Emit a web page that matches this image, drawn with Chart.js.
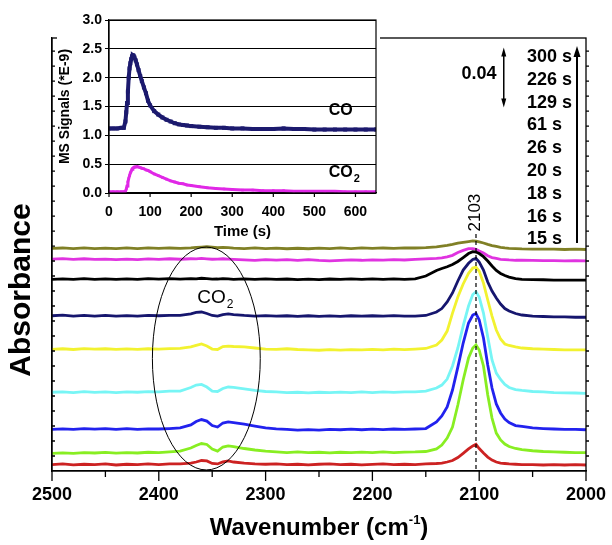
<!DOCTYPE html>
<html>
<head>
<meta charset="utf-8">
<script src="https://cdn.jsdelivr.net/npm/chart.js"></script>
<style>
  body { margin: 0; background: #fff; }
  #wrap { position: relative; width: 612px; height: 545px; }
  #main { position: absolute; left: 0; top: 0; }
  #insetBox { position: absolute; left: 57px; top: 0; width: 323px; height: 244px; background: #fff; }
</style>
</head>
<body>
<div id="wrap">
  <canvas id="main" width="612" height="545"></canvas>
  <div id="insetBox"><canvas id="inset" width="323" height="244"></canvas></div>
</div>
<script>
// IR spectra, absorbance (stacked as shown), wavenumber in cm-1
const wavenumbers = [2500,2490,2480,2470,2460,2450,2440,2430,2420,2410,2400,2390,2380,2370,
  2365,2360,2355,2350,2345,2340,2335,2330,
  2320,2310,2300,2290,2280,2270,2260,2250,2240,2230,2220,2210,2200,2190,2180,2170,2160,2150,2140,
  2135,2130,2125,2120,2115,2110,2106,2103,2100,2096,2092,2088,2084,2080,2076,2072,2066,2060,
  2050,2040,2030,2020,2010,2000];

const spec15 = [.0043,.0047,.0041,.0045,.0043,.0047,.0040,.0045,.0042,.0047,.0043,.0047,.0048,.0053,
  .0060,.0070,.0067,.0050,.0047,.0061,.0067,.0060,
  .0053,.0048,.0045,.0047,.0043,.0045,.0041,.0045,.0047,.0043,.0045,.0041,.0044,.0047,.0043,.0045,.0043,.0047,.0050,
  .0053,.0060,.0070,.0090,.0118,.0147,.0167,.0178,.0150,.0120,.0093,.0073,.0060,.0053,.0050,.0047,.0045,.0043,
  .0043,.0040,.0043,.0040,.0042,.0040];
const spec16 = [.0118,.0121,.0117,.0123,.0120,.0124,.0119,.0123,.0120,.0125,.0123,.0128,.0133,.0153,
  .0170,.0183,.0177,.0147,.0133,.0160,.0167,.0163,
  .0150,.0140,.0133,.0128,.0123,.0127,.0123,.0125,.0121,.0125,.0122,.0126,.0123,.0127,.0123,.0126,.0127,.0130,.0147,
  .0173,.0220,.0293,.0440,.0607,.0753,.0820,.0840,.0807,.0700,.0507,.0353,.0253,.0207,.0180,.0163,.0150,.0143,
  .0135,.0130,.0127,.0125,.0123,.0122];
const spec18 = [.0278,.0281,.0277,.0283,.0279,.0283,.0278,.0282,.0277,.0281,.0280,.0283,.0287,.0307,
  .0330,.0343,.0333,.0303,.0293,.0320,.0327,.0323,
  .0313,.0300,.0287,.0281,.0277,.0273,.0276,.0273,.0277,.0275,.0279,.0275,.0279,.0276,.0280,.0277,.0280,.0283,.0327,
  .0367,.0427,.0540,.0693,.0853,.0987,.1040,.1050,.1007,.0887,.0707,.0553,.0447,.0387,.0347,.0323,.0303,.0297,
  .0287,.0283,.0280,.0277,.0278,.0275];
const spec20 = [.0525,.0528,.0523,.0529,.0524,.0527,.0523,.0528,.0525,.0529,.0527,.0533,.0533,.0557,
  .0573,.0577,.0560,.0533,.0530,.0550,.0560,.0557,
  .0547,.0537,.0530,.0527,.0523,.0525,.0521,.0525,.0522,.0526,.0523,.0527,.0523,.0527,.0524,.0527,.0527,.0533,.0553,
  .0573,.0613,.0700,.0820,.0967,.1100,.1177,.1195,.1160,.1053,.0893,.0740,.0653,.0610,.0577,.0557,.0543,.0537,
  .0530,.0527,.0523,.0521,.0520,.0518];
const spec26 = [.0811,.0815,.0810,.0816,.0812,.0815,.0811,.0814,.0811,.0815,.0813,.0816,.0817,.0827,
  .0837,.0847,.0833,.0813,.0810,.0830,.0833,.0830,
  .0827,.0820,.0813,.0811,.0815,.0810,.0808,.0805,.0809,.0806,.0809,.0807,.0811,.0808,.0812,.0809,.0813,.0817,.0840,
  .0873,.0933,.1053,.1160,.1247,.1318,.1353,.1360,.1333,.1253,.1140,.1033,.0940,.0880,.0847,.0837,.0827,.0820,
  .0815,.0812,.0810,.0808,.0807,.0807];
const spec61 = [.1035,.1039,.1033,.1037,.1033,.1037,.1032,.1036,.1033,.1038,.1035,.1037,.1037,.1047,
  .1057,.1060,.1050,.1037,.1033,.1043,.1047,.1043,
  .1037,.1033,.1036,.1032,.1035,.1031,.1035,.1031,.1034,.1031,.1035,.1032,.1035,.1033,.1036,.1033,.1033,.1037,.1060,
  .1083,.1127,.1187,.1267,.1340,.1385,.1410,.1417,.1393,.1340,.1260,.1200,.1153,.1113,.1083,.1067,.1050,.1040,
  .1033,.1030,.1028,.1027,.1025,.1025];
const spec129 = [.1278,.1281,.1277,.1282,.1277,.1281,.1277,.1281,.1278,.1282,.1279,.1283,.1279,.1283,
  .1281,.1285,.1282,.1279,.1280,.1283,.1281,.1278,
  .1281,.1277,.1281,.1277,.1280,.1276,.1279,.1276,.1280,.1277,.1281,.1277,.1281,.1278,.1281,.1278,.1281,.1300,.1337,
  .1350,.1362,.1377,.1397,.1423,.1450,.1462,.1460,.1450,.1429,.1400,.1367,.1337,.1317,.1303,.1293,.1283,.1278,
  .1276,.1275,.1273,.1273,.1272,.1273];
const spec226 = [.1413,.1416,.1411,.1415,.1411,.1413,.1409,.1413,.1410,.1414,.1411,.1415,.1412,.1415,
  .1414,.1417,.1415,.1412,.1413,.1415,.1413,.1411,
  .1408,.1405,.1409,.1406,.1409,.1405,.1409,.1404,.1401,.1405,.1407,.1405,.1408,.1406,.1409,.1407,.1411,.1415,.1418,
  .1421,.1428,.1438,.1457,.1471,.1483,.1483,.1478,.1467,.1453,.1435,.1423,.1417,.1411,.1409,.1407,.1405,.1405,
  .1404,.1403,.1403,.1401,.1403,.1401];
const spec300 = [.1485,.1487,.1483,.1487,.1483,.1486,.1483,.1487,.1483,.1487,.1484,.1487,.1485,.1488,
  .1491,.1493,.1495,.1492,.1489,.1491,.1489,.1486,
  .1483,.1487,.1483,.1486,.1482,.1485,.1482,.1486,.1483,.1487,.1483,.1487,.1484,.1487,.1485,.1488,.1487,.1490,.1495,
  .1500,.1505,.1511,.1519,.1525,.1530,.1534,.1533,.1528,.1520,.1511,.1503,.1497,.1491,.1487,.1485,.1483,.1481,
  .1480,.1479,.1480,.1477,.1479,.1477];

const times = ['15 s', '16 s', '18 s', '20 s', '26 s', '61 s', '129 s', '226 s', '300 s'];
const spectra = [spec15, spec16, spec18, spec20, spec26, spec61, spec129, spec226, spec300];
const xTicks = [2500, 2400, 2300, 2200, 2100, 2000];

// inset: MS signals (*E-9) vs time (s)
const msTime = [0,10,20,30,36,40,42,44,46,48,50,52,54,56,58,60,62,65,68,72,76,80,85,90,95,
  100,110,120,130,140,150,160,170,180,190,200,220,240,260,280,300,
  325,350,375,400,425,450,475,500,525,550,575,600,625,650];
const msCO = [1.12,1.12,1.12,1.13,1.13,1.24,1.40,1.56,1.76,2.00,2.16,2.25,2.32,2.37,2.39,2.38,2.35,
  2.30,2.23,2.13,2.03,1.94,1.83,1.73,1.60,
  1.52,1.42,1.36,1.31,1.27,1.24,1.21,1.19,1.18,1.17,1.16,1.15,1.14,1.13,1.13,1.12,
  1.12,1.11,1.11,1.11,1.12,1.11,1.11,1.10,1.10,1.10,1.10,1.10,1.10,1.10];
const msCO2 = [0.02,0.02,0.02,0.02,0.02,0.03,0.07,0.12,0.19,0.25,0.30,0.35,0.38,0.41,0.43,0.44,0.45,
  0.45,0.46,0.45,0.44,0.43,0.42,0.40,0.39,
  0.37,0.33,0.30,0.27,0.24,0.21,0.19,0.17,0.16,0.14,0.13,0.11,0.09,0.08,0.07,0.06,
  0.05,0.05,0.04,0.04,0.04,0.03,0.03,0.03,0.03,0.03,0.02,0.02,0.02,0.02];

const lineColors = ['#cc2222', '#88ee22', '#2222ee', '#77f5f5', '#f2f230', '#16166e', '#000000', '#e033e0', '#808026'];

Chart.defaults.font.family = "'Liberation Sans', Arial, sans-serif";
Chart.defaults.color = '#000';

function arrowHead(ctx, x, y, dir, w, h) {
  ctx.beginPath();
  ctx.moveTo(x, y);
  ctx.lineTo(x - w, y - dir * h);
  ctx.lineTo(x + w, y - dir * h);
  ctx.closePath();
  ctx.fill();
}

function subText(ctx, x, y, main, sub, size, subSize, weight) {
  ctx.font = weight + ' ' + size + 'px "Liberation Sans", Arial, sans-serif';
  ctx.textAlign = 'left';
  ctx.textBaseline = 'alphabetic';
  ctx.fillText(main, x, y);
  const w = ctx.measureText(main).width;
  ctx.font = weight + ' ' + subSize + 'px "Liberation Sans", Arial, sans-serif';
  ctx.fillText(sub, x + w + 1, y + subSize * 0.45);
}

const mainExtras = {
  id: 'mainExtras',
  afterDraw(chart) {
    const {ctx, chartArea: a, scales: {x, y}} = chart;
    ctx.save();
    ctx.strokeStyle = '#000';
    ctx.fillStyle = '#000';
    ctx.lineWidth = 1.3;
    ctx.strokeRect(a.left, a.top, a.right - a.left, a.bottom - a.top);

    ctx.beginPath();
    for (let v = 2000; v <= 2500; v += 50) {
      const px = x.getPixelForValue(v);
      ctx.moveTo(px, a.bottom);
      ctx.lineTo(px, a.bottom + (v % 100 === 0 ? 10 : 6));
    }
    for (let v = 0.01; v < y.max; v += 0.01) {
      const py = y.getPixelForValue(v);
      ctx.moveTo(a.left, py); ctx.lineTo(a.left + 3, py);
      ctx.moveTo(a.right, py); ctx.lineTo(a.right + 3, py);
    }
    ctx.stroke();

    // peak marker at 2103
    const px2103 = x.getPixelForValue(2103);
    ctx.save();
    ctx.lineWidth = 1.2;
    ctx.setLineDash([4, 3]);
    ctx.beginPath();
    ctx.moveTo(px2103, y.getPixelForValue(0.158));
    ctx.lineTo(px2103, a.bottom);
    ctx.stroke();
    ctx.restore();
    ctx.save();
    ctx.translate(px2103 - 1, y.getPixelForValue(0.1723));
    ctx.rotate(-Math.PI / 2);
    ctx.font = '17px "Liberation Sans", Arial, sans-serif';
    ctx.textAlign = 'center';
    ctx.textBaseline = 'middle';
    ctx.fillText('2103', 0, 0);
    ctx.restore();

    // CO2 ellipse
    const ex1 = x.getPixelForValue(2406), ex2 = x.getPixelForValue(2305);
    const ey1 = y.getPixelForValue(0.1493), ey2 = y.getPixelForValue(0.0007);
    ctx.lineWidth = 1;
    ctx.beginPath();
    ctx.ellipse((ex1 + ex2) / 2, (ey1 + ey2) / 2, (ex2 - ex1) / 2, (ey2 - ey1) / 2, 0, 0, Math.PI * 2);
    ctx.stroke();
    subText(ctx, x.getPixelForValue(2364), y.getPixelForValue(0.112), 'CO', '2', 19, 12, 'normal');

    // time labels and arrow
    ctx.font = 'bold 18px "Liberation Sans", Arial, sans-serif';
    ctx.textAlign = 'left';
    ctx.textBaseline = 'middle';
    const rev = times.slice().reverse();
    rev.forEach((t, i) => ctx.fillText(t, 527, 57 + i * 22.8));
    ctx.lineWidth = 2;
    ctx.beginPath();
    ctx.moveTo(577, 243);
    ctx.lineTo(577, 54);
    ctx.stroke();
    arrowHead(ctx, 577, 46, -1, 3.5, 11);

    // 0.04 scale bar
    const sx = x.getPixelForValue(2077);
    const sTop = y.getPixelForValue(0.2823), sBot = y.getPixelForValue(0.2423);
    ctx.lineWidth = 1.5;
    ctx.beginPath();
    ctx.moveTo(sx, sTop + 6);
    ctx.lineTo(sx, sBot - 6);
    ctx.stroke();
    arrowHead(ctx, sx, sTop, -1, 2.5, 9);
    arrowHead(ctx, sx, sBot, 1, 2.5, 9);
    ctx.font = 'bold 18px "Liberation Sans", Arial, sans-serif';
    ctx.textAlign = 'center';
    ctx.fillText('0.04', 479, 74);

    // axis titles
    ctx.save();
    ctx.translate(22, 290);
    ctx.rotate(-Math.PI / 2);
    ctx.font = 'bold 30px "Liberation Sans", Arial, sans-serif';
    ctx.textAlign = 'center';
    ctx.textBaseline = 'middle';
    ctx.fillText('Absorbance', 0, 0);
    ctx.restore();

    const big = 'bold 24px "Liberation Sans", Arial, sans-serif';
    const small = 'bold 13px "Liberation Sans", Arial, sans-serif';
    ctx.textBaseline = 'alphabetic';
    ctx.textAlign = 'left';
    ctx.font = big; const w1 = ctx.measureText('Wavenumber (cm').width; const w3 = ctx.measureText(')').width;
    ctx.font = small; const w2 = ctx.measureText('-1').width;
    let tx = (a.left + a.right) / 2 - (w1 + w2 + w3) / 2;
    ctx.font = big; ctx.fillText('Wavenumber (cm', tx, 535);
    ctx.font = small; ctx.fillText('-1', tx + w1, 524);
    ctx.font = big; ctx.fillText(')', tx + w1 + w2, 535);
    ctx.restore();
  }
};

new Chart(document.getElementById('main'), {
  type: 'line',
  data: {
    datasets: spectra.map((s, i) => ({
      label: times[i],
      data: s.map((v, j) => ({x: wavenumbers[j], y: v})),
      borderColor: lineColors[i],
      borderWidth: 2.8,
      pointRadius: 0,
      fill: false
    }))
  },
  options: {
    responsive: false,
    animation: false,
    layout: {padding: {top: 38, right: 26, left: 0, bottom: 0}},
    plugins: {legend: {display: false}, tooltip: {enabled: false}},
    scales: {
      x: {
        type: 'linear', reverse: true, min: 2000, max: 2500,
        afterBuildTicks: s => { s.ticks = xTicks.map(v => ({value: v})); },
        ticks: {font: {size: 18, weight: 'bold'}, padding: 5, maxRotation: 0, callback: v => String(v)},
        grid: {display: false},
        border: {display: true, color: '#000', width: 1.3},
        afterFit: s => { s.height = 74; }
      },
      y: {
        min: 0, max: 0.2887,
        ticks: {display: false},
        grid: {display: false},
        border: {display: true, color: '#000', width: 1.3},
        afterFit: s => { s.width = 52; }
      }
    }
  },
  plugins: [mainExtras]
});

const insetExtras = {
  id: 'insetExtras',
  afterDraw(chart) {
    const {ctx, chartArea: a, scales: {x, y}} = chart;
    ctx.save();
    ctx.strokeStyle = '#000';
    ctx.fillStyle = '#000';
    ctx.lineWidth = 1.2;
    ctx.strokeRect(a.left, a.top, a.right - a.left, a.bottom - a.top);
    ctx.beginPath();
    x.ticks.forEach(t => {
      const px = x.getPixelForValue(t.value);
      ctx.moveTo(px, a.bottom); ctx.lineTo(px, a.bottom + 4);
    });
    ctx.stroke();
    ctx.font = 'bold 16px "Liberation Sans", Arial, sans-serif';
    ctx.textBaseline = 'alphabetic';
    ctx.fillText('CO', x.getPixelForValue(535), y.getPixelForValue(1.35));
    subText(ctx, x.getPixelForValue(535), y.getPixelForValue(0.28), 'CO', '2', 16, 11, 'bold');
    ctx.restore();
  }
};

new Chart(document.getElementById('inset'), {
  type: 'line',
  data: {
    datasets: [
      {
        label: 'CO',
        data: msTime.map((t, i) => ({x: t, y: msCO[i]})),
        borderColor: '#1c1a6e', backgroundColor: '#1c1a6e',
        borderWidth: 4, pointStyle: 'rect', pointRadius: 2.8, pointBorderWidth: 0
      },
      {
        label: 'CO2',
        data: msTime.map((t, i) => ({x: t, y: msCO2[i]})),
        borderColor: '#e028e6', backgroundColor: '#e028e6',
        borderWidth: 3, pointStyle: 'rect', pointRadius: 1.8, pointBorderWidth: 0
      }
    ]
  },
  options: {
    responsive: false,
    animation: false,
    layout: {padding: {top: 20, right: 2, left: 0, bottom: 0}},
    plugins: {legend: {display: false}, tooltip: {enabled: false}},
    scales: {
      x: {
        type: 'linear', min: 0, max: 650,
        ticks: {stepSize: 100, includeBounds: false, font: {size: 14, weight: 'bold'}, maxRotation: 0},
        grid: {display: false},
        border: {display: true, color: '#000', width: 1.2},
        title: {display: true, text: 'Time (s)', font: {size: 15, weight: 'bold'}, padding: {top: 0, bottom: 3}},
        afterFit: s => { s.height = 51; }
      },
      y: {
        min: 0, max: 3,
        ticks: {stepSize: 0.5, font: {size: 14, weight: 'bold'}, callback: v => v.toFixed(1)},
        grid: {color: '#000', lineWidth: 1, tickLength: 4},
        border: {display: true, color: '#000', width: 1.2},
        title: {display: true, text: 'MS Signals (*E-9)', font: {size: 14, weight: 'bold'}, padding: {top: 0, bottom: 0}},
        afterFit: s => { s.width = 52; }
      }
    }
  },
  plugins: [insetExtras]
});
</script>
</body>
</html>
